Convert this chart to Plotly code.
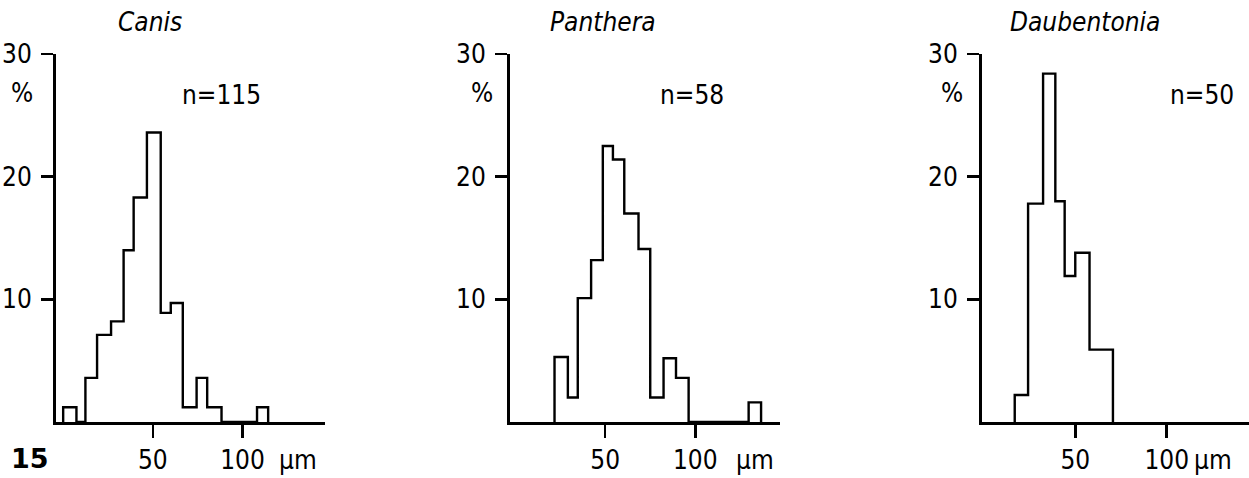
import plotly.graph_objects as go

W, H = 1249, 478
OFF = 0

# ---- data ----
canis_edges = [0, 7.4, 12.4, 18.9, 26.7, 33.7, 39.3, 46.7, 54.4, 60.0, 66.7, 74.4, 80.3, 88.3, 108.1, 114.3]
canis_pct = [1.2, 0, 3.6, 7.1, 8.2, 14.0, 18.3, 23.6, 8.9, 9.7, 1.2, 3.6, 1.2, 0, 1.2]

panthera_edges = [21.9, 29.3, 34.8, 42.2, 48.7, 54.3, 60.6, 68.5, 75.0, 82.4, 89.3, 96.3, 129.6, 136.5]
panthera_pct = [5.3, 2.0, 10.1, 13.2, 22.5, 21.4, 17.0, 14.1, 2.0, 5.2, 3.6, 0, 1.6]

daub_edges = [16.9, 24.2, 32.4, 39.1, 44.2, 50.0, 57.8, 70.6]
daub_pct = [2.2, 17.8, 28.4, 18.0, 11.9, 13.8, 5.9]

titles = ["Canis", "Panthera", "Daubentonia"]
n_labels = ["n=115", "n=58", "n=50"]
x_ticks = [50, 100]
x_tick_text = ["50", "100"]
y_ticks = [10, 20, 30]
y_tick_text = ["10", "20", "30"]

FONT = "DejaVu Sans Condensed, Liberation Sans Narrow, sans-serif"
FS = 26


def fx(px):
    return (px - OFF) / W


def fy(py):
    return 1 - (py - OFF) / H


panels = [
    dict(edges=canis_edges, pct=canis_pct, xr=[-4, 146], px=(56, 325),
         title_x=150, n_x=221, pct_x=22, um_x=298),
    dict(edges=panthera_edges, pct=panthera_pct, xr=[-2.8, 147], px=(510, 780),
         title_x=603, n_x=692, pct_x=482, um_x=755),
    dict(edges=daub_edges, pct=daub_pct, xr=[-1, 145], px=(982, 1249),
         title_x=1085, n_x=1202, pct_x=952, um_x=1213),
]

y_dom = [fy(422), fy(54)]

fig = go.Figure()
layout = dict(
    width=W, height=H,
    margin=dict(l=0, r=0, t=0, b=0, autoexpand=False),
    paper_bgcolor="white", plot_bgcolor="white",
    showlegend=False,
    font=dict(family=FONT, size=FS, color="black"),
)
annotations = []

for i, p in enumerate(panels):
    sfx = "" if i == 0 else str(i + 1)
    xs = [p["edges"][0]] + p["edges"]
    ys = [0] + p["pct"] + [0]
    fig.add_trace(go.Scatter(
        x=xs, y=ys, mode="lines", line=dict(shape="hv", color="black", width=2.4),
        xaxis="x" + sfx, yaxis="y" + sfx, cliponaxis=False, hoverinfo="skip"))
    layout["xaxis" + sfx] = dict(
        domain=[fx(p["px"][0]), min(1.0, fx(p["px"][1]))], range=p["xr"], anchor="y" + sfx,
        automargin=False,
        showgrid=False, zeroline=False, showline=True, linecolor="black", linewidth=3,
        ticks="outside", ticklen=13, tickwidth=2.5, tickcolor="black",
        tickvals=x_ticks, ticktext=x_tick_text, ticklabelstandoff=0,
        tickfont=dict(family=FONT, size=FS, color="black"))
    layout["yaxis" + sfx] = dict(
        domain=y_dom, range=[0, 30], anchor="x" + sfx,
        automargin=False,
        showgrid=False, zeroline=False, showline=True, linecolor="black", linewidth=3,
        ticks="outside", ticklen=12, tickwidth=2.5, tickcolor="black",
        tickvals=y_ticks, ticktext=y_tick_text, ticklabelstandoff=4,
        tickfont=dict(family=FONT, size=FS, color="black"))
    annotations.append(dict(text="<i>" + titles[i] + "</i>", x=fx(p["title_x"]), y=fy(22),
                            xref="paper", yref="paper", xanchor="center", yanchor="middle",
                            showarrow=False, font=dict(family=FONT, size=FS, color="black")))
    annotations.append(dict(text=n_labels[i], x=fx(p["n_x"]), y=fy(95),
                            xref="paper", yref="paper", xanchor="center", yanchor="middle",
                            showarrow=False, font=dict(family=FONT, size=FS, color="black")))
    annotations.append(dict(text="%", x=fx(p["pct_x"]), y=fy(93),
                            xref="paper", yref="paper", xanchor="center", yanchor="middle",
                            showarrow=False, font=dict(family=FONT, size=FS, color="black")))
    annotations.append(dict(text="µm", x=fx(p["um_x"]), y=fy(460),
                            xref="paper", yref="paper", xanchor="center", yanchor="middle",
                            showarrow=False, font=dict(family=FONT, size=FS, color="black")))

annotations.append(dict(text="<b>15</b>", x=fx(30), y=fy(458),
                        xref="paper", yref="paper", xanchor="center", yanchor="middle",
                        showarrow=False, font=dict(family="DejaVu Sans, sans-serif",
                                                   size=27, color="black")))
layout["annotations"] = annotations
fig.update_layout(**layout)
fig.write_html("out.html",
               config={"displayModeBar": False, "staticPlot": True},
               post_script="document.body.style.margin='0';document.body.style.overflow='hidden';")
